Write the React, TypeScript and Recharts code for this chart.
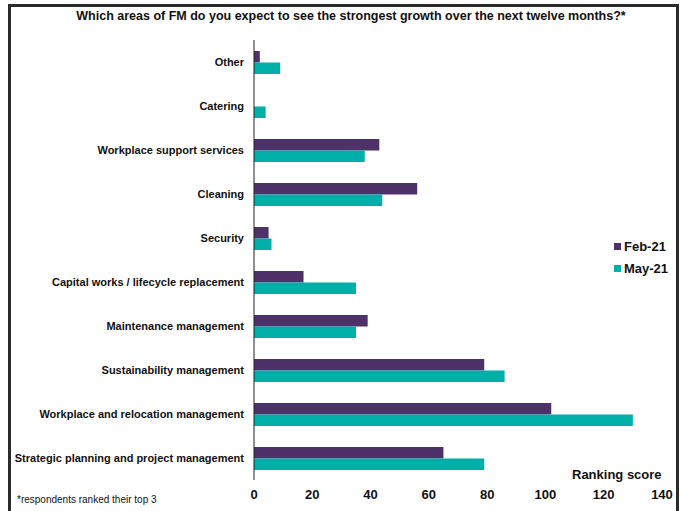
import { BarChart, Bar, XAxis, YAxis } from 'recharts';

const CATEGORIES = [
  'Other',
  'Catering',
  'Workplace support services',
  'Cleaning',
  'Security',
  'Capital works / lifecycle replacement',
  'Maintenance management',
  'Sustainability management',
  'Workplace and relocation management',
  'Strategic planning and project management',
];

const FEB_21 = [2, 0, 43, 56, 5, 17, 39, 79, 102, 65];
const MAY_21 = [9, 4, 38, 44, 6, 35, 35, 86, 130, 79];

const X_TICKS = [0, 20, 40, 60, 80, 100, 120, 140];

const SERIES = [
  { key: 'feb', name: 'Feb-21', color: '#4d3168' },
  { key: 'may', name: 'May-21', color: '#00b0a8' },
];

const data = CATEGORIES.map((name, i) => ({ name, feb: FEB_21[i], may: MAY_21[i] }));

const NARROW = "'Liberation Sans Narrow', 'Arial Narrow', 'Liberation Sans', Arial, sans-serif";
const SANS = "'Liberation Sans', Arial, sans-serif";

function CategoryTick({ x, y, payload }: any) {
  return (
    <text x={x} y={y} dy="0.35em" textAnchor="end" fontFamily={SANS} fontWeight={700} fontSize={11} fill="#111">
      {payload.value}
    </text>
  );
}

function LegendBox() {
  return (
    <div
      style={{
        position: 'absolute',
        left: 614,
        top: 235,
        fontFamily: NARROW,
        fontWeight: 700,
        fontSize: 13,
        color: '#111',
      }}
    >
      {SERIES.map((s) => (
        <div key={s.key} style={{ display: 'flex', alignItems: 'center', height: 22 }}>
          <span style={{ width: 7, height: 7, background: s.color, marginRight: 3 }} />
          {s.name}
        </div>
      ))}
    </div>
  );
}

export default function App() {
  return (
    <div style={{ position: 'absolute', left: 0, top: 0, width: 685, height: 511, background: '#fff', overflow: 'hidden' }}>
      <div
        style={{
          position: 'absolute',
          left: 8,
          top: 4,
          width: 665,
          height: 520,
          border: '3px solid #2b2b2b',
          borderBottom: 'none',
        }}
      />
      <div
        style={{
          position: 'absolute',
          left: 0,
          top: 9,
          width: 702,
          textAlign: 'center',
          fontFamily: SANS,
          fontWeight: 700,
          fontSize: 12.5,
          color: '#111',
        }}
      >
        Which areas of FM do you expect to see the strongest growth over the next twelve months?*
      </div>
      <div style={{ position: 'absolute', left: 0, top: 0 }}>
        <BarChart
          width={685}
          height={511}
          data={data}
          layout="vertical"
          margin={{ top: 40, right: 23, bottom: 0, left: 0 }}
          barGap={0}
          barSize={11.5}
        >
          <XAxis
            type="number"
            domain={[0, 140]}
            ticks={X_TICKS}
            axisLine={false}
            tickLine={false}
            tickSize={0}
            tickMargin={10}
            height={31}
            tick={{ fontFamily: NARROW, fontWeight: 700, fontSize: 13, fill: '#111' }}
          />
          <YAxis
            type="category"
            dataKey="name"
            width={254}
            axisLine={{ stroke: '#222', strokeWidth: 1 }}
            tickLine={false}
            tickSize={0}
            tickMargin={10}
            interval={0}
            tick={<CategoryTick />}
          />
          {SERIES.map((s) => (
            <Bar key={s.key} dataKey={s.key} name={s.name} fill={s.color} isAnimationActive={false} />
          ))}
        </BarChart>
      </div>
      <LegendBox />
      <div
        style={{
          position: 'absolute',
          left: 572,
          top: 467,
          fontFamily: NARROW,
          fontWeight: 700,
          fontSize: 13,
          color: '#111',
        }}
      >
        Ranking score
      </div>
      <div
        style={{
          position: 'absolute',
          left: 17,
          top: 494,
          fontFamily: SANS,
          fontSize: 10,
          color: '#111',
        }}
      >
        *respondents ranked their top 3
      </div>
    </div>
  );
}
